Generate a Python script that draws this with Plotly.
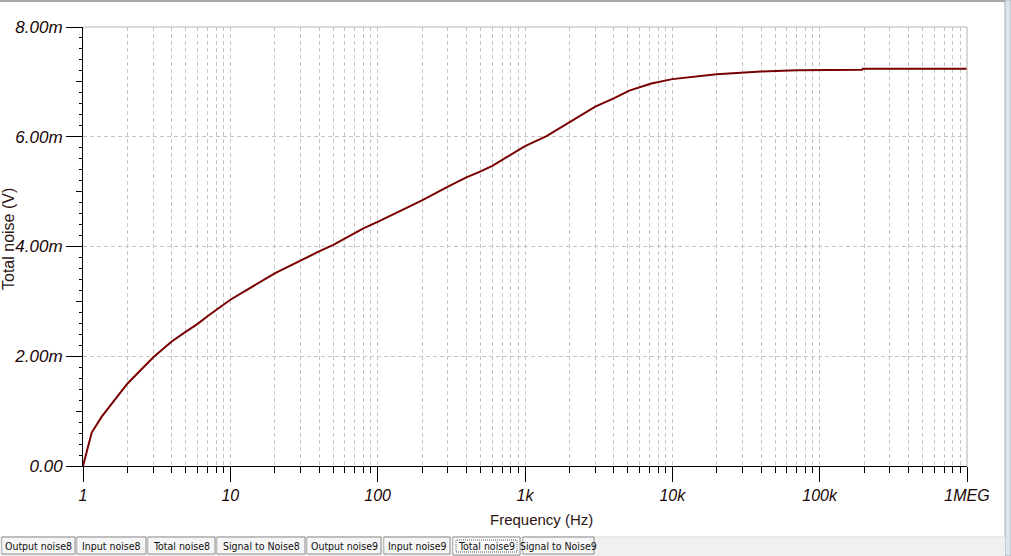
import plotly.graph_objects as go

# ---- data ----
freq_hz = [1, 1.146, 1.34, 1.61, 1.88, 2, 3, 4, 5, 6, 7, 9, 10, 20, 30, 40, 50, 60, 80,
           100, 142, 200, 300, 400, 500, 600, 700, 1000, 1400, 2000, 2350, 3000, 4000,
           5100, 7200, 10000, 20000, 40000, 70000, 100000, 194000, 196000, 1000000]
total_noise_mv = [0.0, 0.61, 0.90, 1.17, 1.42, 1.50, 1.98, 2.27, 2.45, 2.59, 2.73, 2.95, 3.03,
                  3.51, 3.75, 3.91, 4.03, 4.15, 4.33, 4.45, 4.65, 4.84, 5.09, 5.26, 5.37, 5.47,
                  5.58, 5.83, 6.01, 6.27, 6.38, 6.55, 6.70, 6.84, 6.97, 7.05, 7.14, 7.19, 7.21,
                  7.215, 7.22, 7.24, 7.24]
total_noise_v = [v * 1e-3 for v in total_noise_mv]

x_major_vals = [1, 10, 100, 1000, 10000, 100000, 1000000]
x_major_text = ["1", "10", "100", "1k", "10k", "100k", "1MEG"]
x_minor_vals = [k * 10 ** d for d in range(6) for k in range(2, 10)]

y_label_vals = [0, 0.002, 0.004, 0.006, 0.008]
y_label_text = ["0.00", "2.00m", "4.00m", "6.00m", "8.00m"]
y_mid_vals = [0.001, 0.003, 0.005, 0.007]
y_minor_vals = [i * 0.0002 for i in range(41) if i % 5 != 0]

tab_labels = ["Output noise8", "Input noise8", "Total noise8", "Signal to Noise8",
              "Output noise9", "Input noise9", "Total noise9", "Signal to Noise9"]
tab_edges = [(2, 75), (77, 146), (148, 215), (217, 305), (307, 381), (384, 450),
             (453, 520), (523, 594)]
selected_tab = "Total noise9"

# ---- layout geometry ----
W, H = 1011, 556
L, R, T, B = 83, 44, 27, 90
PW, PH = W - L - R, H - T - B


def px(x):
    return (x - L) / PW


def py(y):
    return (H - B - y) / PH


GRID = "#c4c4c4"
DASH = "4px,3px"
TXT = "#1a0606"
FONT = "Liberation Sans, Arial, sans-serif"
TAB_FONT = "Liberation Sans Narrow, DejaVu Sans Condensed, Liberation Sans, sans-serif"

fig = go.Figure()
fig.add_trace(go.Scatter(x=freq_hz, y=total_noise_v, mode="lines",
                         line=dict(color="#780000", width=2), showlegend=False,
                         hoverinfo="skip"))
# invisible trace to activate secondary y axis (odd-mV ticks)
fig.add_trace(go.Scatter(x=[1], y=[0], yaxis="y2", mode="markers",
                         marker=dict(opacity=0), showlegend=False, hoverinfo="skip"))

fig.update_layout(
    width=W, height=H,
    margin=dict(l=L, r=R, t=T, b=B),
    paper_bgcolor="white", plot_bgcolor="white",
    font=dict(family=FONT, color=TXT),
    xaxis=dict(type="log", range=[0, 6], showline=True, linecolor="black", linewidth=1,
               tickmode="array", tickvals=x_major_vals, ticktext=x_major_text,
               ticks="outside", ticklen=15, tickwidth=1, tickcolor="black",
               tickfont=dict(family=FONT, size=16, color=TXT, style="italic"),
               showgrid=True, gridcolor=GRID, griddash=DASH, gridwidth=1,
               zeroline=False,
               minor=dict(tickmode="array", tickvals=x_minor_vals, ticks="outside",
                          ticklen=6, tickwidth=1, tickcolor="black", showgrid=True,
                          gridcolor=GRID, griddash=DASH, gridwidth=1)),
    yaxis=dict(range=[0, 0.008], showline=True, linecolor="black", linewidth=1,
               tickmode="array", tickvals=y_label_vals, ticktext=y_label_text,
               ticks="outside", ticklen=16, tickwidth=1, tickcolor="black",
               tickfont=dict(family=FONT, size=17, color=TXT, style="italic"),
               showgrid=True, gridcolor=GRID, griddash=DASH, gridwidth=1,
               zeroline=False,
               minor=dict(tickmode="array", tickvals=y_minor_vals, ticks="outside",
                          ticklen=3, tickwidth=1, tickcolor="black", showgrid=False)),
    yaxis2=dict(range=[0, 0.008], overlaying="y", anchor="x", side="left",
                showline=False, tickmode="array", tickvals=y_mid_vals,
                ticks="outside", ticklen=6, tickwidth=1, tickcolor="black",
                showticklabels=False, showgrid=False, zeroline=False),
)

shapes = [
    # plot frame top / right (grey)
    dict(type="line", xref="x domain", yref="y domain", x0=0, x1=1, y0=1, y1=1,
         line=dict(color="#b4b4b4", width=1)),
    dict(type="line", xref="x domain", yref="y domain", x0=1, x1=1, y0=0, y1=1,
         line=dict(color="#b4b4b4", width=1)),
    # window top edge
    dict(type="rect", xref="paper", yref="paper", x0=px(0), x1=px(W), y0=py(2), y1=py(0),
         fillcolor="#a8a8a8", line=dict(width=0)),
    # window right edge
    dict(type="rect", xref="paper", yref="paper", x0=px(1005), x1=px(W), y0=py(H), y1=py(0),
         fillcolor="#dde4ec", line=dict(color="#a8b0b8", width=1)),
    # tab strip
    dict(type="rect", xref="paper", yref="paper", x0=px(0), x1=px(1005), y0=py(H), y1=py(537),
         fillcolor="#f0f0f0", line=dict(width=0)),
    dict(type="line", xref="paper", yref="paper", x0=px(0), x1=px(1005), y0=py(537), y1=py(537),
         line=dict(color="#dadada", width=1)),
]
annotations = [
    dict(text="Frequency (Hz)", xref="paper", yref="paper", x=px(541), y=py(519),
         showarrow=False, font=dict(family=FONT, size=15, color="#2c1414"),
         xanchor="center", yanchor="middle"),
    dict(text="Total noise (V)", xref="paper", yref="paper", x=px(9), y=py(239),
         showarrow=False, textangle=-90, font=dict(family=FONT, size=16, color="#2c1414"),
         xanchor="center", yanchor="middle"),
]
for label, (x0, x1) in zip(tab_labels, tab_edges):
    sel = label == selected_tab
    shapes.append(dict(type="rect", xref="paper", yref="paper", x0=px(x0), x1=px(x1),
                       y0=py(555 if sel else 554), y1=py(537),
                       fillcolor="#f6f6f6" if not sel else "#fbfbfb",
                       line=dict(color="#8c8c8c", width=1)))
    shapes.append(dict(type="line", xref="paper", yref="paper", x0=px(x0 + 1), x1=px(x0 + 1),
                       y0=py(553), y1=py(538), line=dict(color="white", width=1)))
    if sel:
        shapes.append(dict(type="rect", xref="paper", yref="paper", x0=px(x0 + 3),
                           x1=px(x1 - 3), y0=py(552), y1=py(540),
                           fillcolor="rgba(0,0,0,0)",
                           line=dict(color="#555555", width=1, dash="1px,1px")))
    annotations.append(dict(text=label, xref="paper", yref="paper", x=px((x0 + x1) / 2),
                            y=py(546), showarrow=False, xanchor="center", yanchor="middle",
                            font=dict(family=TAB_FONT, size=10.5, color="#101010")))

fig.update_layout(shapes=shapes, annotations=annotations)
fig.write_html("out.html", config={"displayModeBar": False})

# remove the browser's default page margin so the figure sits at the window origin
with open("out.html", encoding="utf-8") as f:
    html = f.read()
html = html.replace("<head>", "<head><style>html,body{margin:0;padding:0;overflow:hidden}</style>", 1)
with open("out.html", "w", encoding="utf-8") as f:
    f.write(html)
